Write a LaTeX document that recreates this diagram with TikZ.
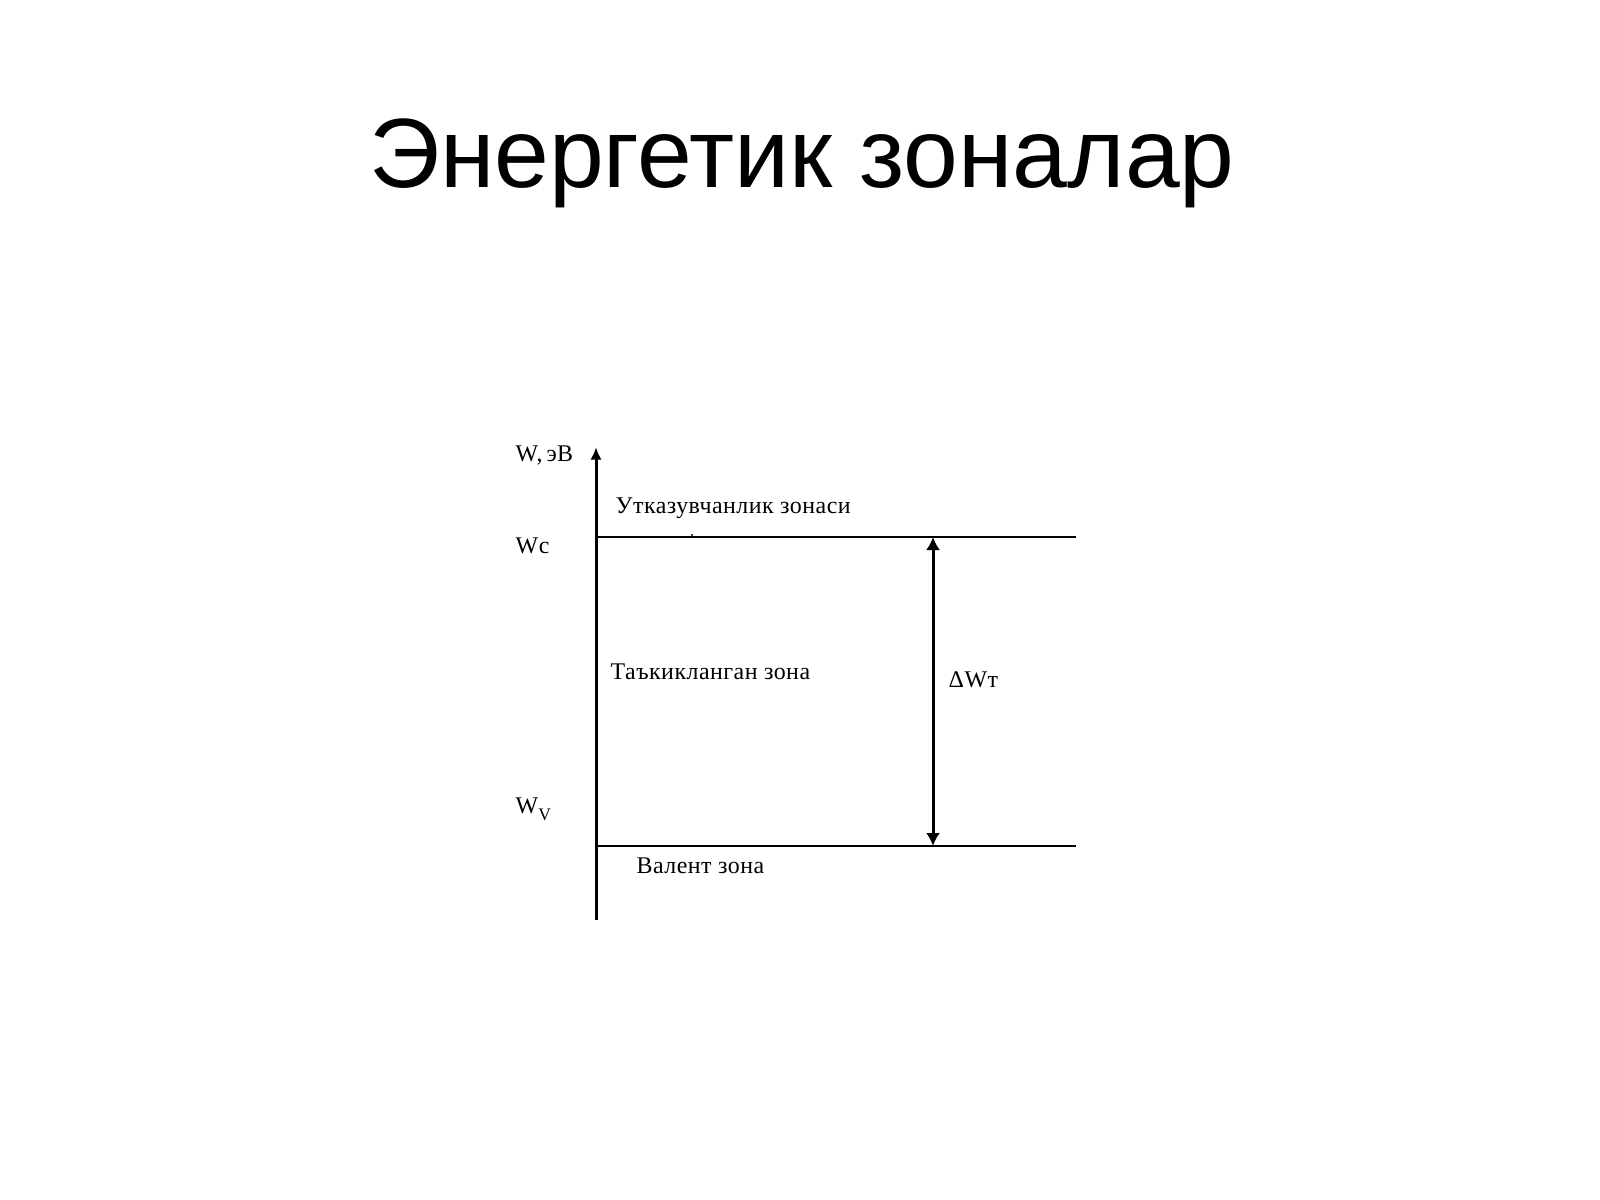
\documentclass[tikz,border=0pt]{standalone}
\usepackage{fontspec}
\setmainfont{Liberation Sans}
\newfontfamily\zonefont[LetterSpace=2]{Liberation Serif}
\usetikzlibrary{positioning,arrows.meta}

\tikzset{
  axis/.style={line width=0.85pt, -{Latex[length=3.6pt,width=3.2pt]}},
  level/.style={line width=0.55pt},
  gap/.style={line width=0.85pt, {Latex[length=3.7pt,width=4pt]}-{Latex[length=3.7pt,width=4pt]}},
  lbl/.style={anchor=base west, inner sep=0pt, font=\zonefont\fontsize{6.8}{8}\selectfont}
}

\begin{document}
\begin{tikzpicture}[x=0.01cm, y=-0.01cm]
\useasboundingbox (0,0) rectangle (1600,1200);
\node[anchor=base, font=\fontsize{28}{32}\selectfont] (title) at (802,187) {Энергетик зоналар};

\coordinate (origin) at (596,920);
\coordinate (top) at (596,447);
\coordinate (cl) at (596,537);
\coordinate (cr) at (1076,537);
\coordinate (vl) at (596,846);
\coordinate (vr) at (1076,846);
\coordinate (gc) at (933,537);
\coordinate (gv) at (933,846);

\draw[axis] (origin) -- (top);
\draw[level] (cl) -- (cr);
\draw[level] (vl) -- (vr);
\draw[gap] (gc) -- (gv);
\fill (692,535) circle (1.2);

\node[lbl] (w)  at (515,461) {W,\,эВ};
\node[lbl] (cb) at (615,513) {Утказувчанлик зонаси};
\node[lbl] (wc) at (515,553) {Wc};
\node[lbl] (fb) at (610,679) {Таъкикланган зона};
\node[lbl] (dw) at (948,687) {ΔWт};
\node[lbl] (wv) at (515,813) {W\raisebox{-0.7ex}{\fontsize{5}{6}\selectfont V}};
\node[lbl] (vb) at (636,873) {Валент зона};
\end{tikzpicture}
\end{document}
